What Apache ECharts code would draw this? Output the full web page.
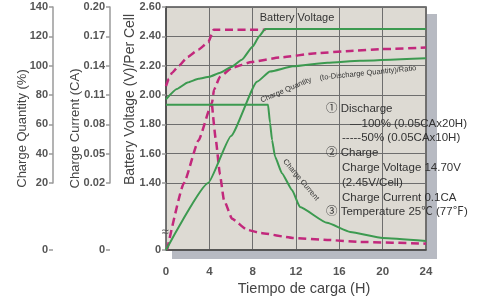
<!DOCTYPE html>
<html>
<head>
<meta charset="utf-8">
<script src="https://cdn.jsdelivr.net/npm/echarts@6/dist/echarts.min.js"></script>
<style>
  html, body { margin: 0; padding: 0; background: #fff; }
  #chart { width: 477px; height: 300px; }
</style>
</head>
<body>
<div id="chart"></div>
<script>
// tick labels
const hourTicks = [0, 4, 8, 12, 16, 20, 24];
const voltTicks = [0, 1.4, 1.6, 1.8, 2.0, 2.2, 2.4, 2.6];
const currentTicks = [0, 0.02, 0.05, 0.08, 0.11, 0.14, 0.17, 0.20];
const quantityTicks = [0, 20, 40, 60, 80, 100, 120, 140];

// [hour, value]
const voltage100 = [[0, 1.97], [1, 2.04], [2, 2.085], [3, 2.11], [4, 2.124], [5, 2.152], [6, 2.19], [7, 2.24], [8, 2.33], [8.6, 2.40], [9.15, 2.45], [24, 2.45]];
const voltage50 = [[0, 2.06], [0.25, 2.11], [0.55, 2.15], [1.2, 2.20], [2.0, 2.26], [3.0, 2.31], [3.9, 2.36], [4.4, 2.445], [9.2, 2.445]];
const quantity100 = [[0, 0], [3.9, 20], [6, 52], [8.4, 89], [9.6, 96], [11.7, 99.5], [14.9, 102], [17.9, 103.3], [24, 105]];
const quantity50 = [[0.1, 0], [1.66, 20], [3, 49], [4.25, 74.7], [4.43, 83.6], [4.98, 92.4], [6.1, 98.6], [7.9, 102.5], [10.5, 105.5], [13.9, 108.5], [17, 110], [20, 111.3], [24, 112.3]];
const current100 = [[0, 0.10], [9.42, 0.10], [9.6, 0.0815], [9.79, 0.064], [10.06, 0.047], [10.7, 0.030], [11.63, 0.0179], [12.37, 0.0128], [14.86, 0.0081], [17, 0.0054], [20, 0.0036], [24, 0.0027]];
const current50 = [[4.25, 0.10], [4.6, 0.064], [4.98, 0.0285], [5.35, 0.0149], [6.1, 0.0093], [7.5, 0.006], [8.7, 0.0051], [11.7, 0.0036], [14.9, 0.003], [17.9, 0.0024], [24, 0.0019]];

const GREEN = '#3c9a50';
const MAGENTA = '#c2287c';
const FONT = '"Liberation Sans", Arial, "Noto Sans CJK SC", sans-serif';

const myChart = echarts.init(document.getElementById('chart'));

const leftAxis = function (ticks, offset, name, nameGap, fmt, brk, namePad, nameSize) {
  return {
    type: 'value',
    position: 'left',
    offset: offset,
    min: ticks[0],
    max: ticks[ticks.length - 1],
    breaks: [brk],
    breakArea: { show: false },
    name: name,
    nameLocation: 'middle',
    nameRotate: 90,
    nameGap: nameGap,
    nameMoveOverlap: false,
    nameTextStyle: { fontSize: nameSize, color: '#444', fontFamily: FONT, padding: namePad },
    axisLine: { show: true, lineStyle: { color: '#9a9a9a', width: 1.5 } },
    axisTick: { show: true, length: 4, customValues: ticks, lineStyle: { color: '#9a9a9a', width: 1.5 } },
    axisLabel: {
      customValues: ticks,
      margin: 5,
      fontSize: 11,
      fontWeight: 'bold',
      color: '#555',
      fontFamily: FONT,
      formatter: fmt
    },
    splitLine: { show: false }
  };
};

const fix2 = v => (v === 0 ? '0' : v.toFixed(2));

const voltAxis = leftAxis(voltTicks, 0, 'Battery Voltage (V)/Per Cell', 29, fix2,
  { start: 0, end: 1.4, gap: 0.4575 }, [0, 0, 0, 58], 14);
voltAxis.axisLine.lineStyle.color = '#4d4d4d';
voltAxis.splitLine = { show: true, lineStyle: { color: '#6e6e6e', width: 1 } };
const currentAxis = leftAxis(currentTicks, 56, 'Charge Current (CA)', 28, fix2,
  { start: 0, end: 0.02, gap: 0.06864 }, 0, 13);
const quantityAxis = leftAxis(quantityTicks, 113, 'Charge Quantity (%)', 24, v => String(v),
  { start: 0, end: 20, gap: 45.76 }, 0, 13);

const lineSeries = function (name, data, yIdx, color, dashed) {
  return {
    name: name,
    type: 'line',
    yAxisIndex: yIdx,
    data: data,
    showSymbol: false,
    smooth: 0.15,
    smoothMonotone: 'x',
    lineStyle: { color: color, width: dashed ? 2.5 : 2, type: dashed ? [8, 4.5] : 'solid' },
    z: dashed ? 3 : 4
  };
};

const legendRows = [
  ['① Discharge', 326, 109],
  ['—100% (0.05CAx20H)', 350, 124],
  ['-----50% (0.05CAx10H)', 342, 138],
  ['② Charge', 326, 153],
  ['Charge Voltage 14.70V', 342, 168],
  ['(2.45V/Cell)', 342, 183],
  ['Charge Current 0.1CA', 342, 198],
  ['③ Temperature 25℃ (77℉)', 326, 212]
];

myChart.setOption({
  animation: false,
  grid: {
    left: 166,
    top: 7,
    right: 51,
    bottom: 50,
    outerBoundsMode: 'none',
    show: true,
    backgroundColor: '#dddad3',
    borderColor: '#4d4d4d',
    borderWidth: 1.5
  },
  xAxis: {
    type: 'value',
    min: 0,
    max: 24,
    interval: 4,
    name: 'Tiempo de carga (H)',
    nameLocation: 'middle',
    nameGap: 32,
    nameMoveOverlap: false,
    nameTextStyle: { fontSize: 14.5, color: '#444', fontFamily: FONT, padding: [0, 0, 0, 16] },
    axisLine: { show: true, lineStyle: { color: '#4d4d4d', width: 1.5 } },
    axisTick: { show: false },
    axisLabel: {
      margin: 16,
      fontSize: 11.5,
      fontWeight: 'bold',
      color: '#555',
      fontFamily: FONT,
      formatter: v => (hourTicks.indexOf(v) >= 0 ? String(v) : '')
    },
    splitLine: { show: true, lineStyle: { color: '#6e6e6e', width: 1 } }
  },
  yAxis: [voltAxis, currentAxis, quantityAxis],
  series: [
    lineSeries('Voltage 100%', voltage100, 0, GREEN, false),
    lineSeries('Voltage 50%', voltage50, 0, MAGENTA, true),
    lineSeries('Quantity 100%', quantity100, 2, GREEN, false),
    lineSeries('Quantity 50%', quantity50, 2, MAGENTA, true),
    lineSeries('Current 100%', current100, 1, GREEN, false),
    lineSeries('Current 50%', current50, 1, MAGENTA, true)
  ],
  graphic: [
    // plot shadow
    { type: 'rect', shape: { x: 427, y: 14, width: 10, height: 245 }, style: { fill: '#b7bac2' }, silent: true },
    { type: 'rect', shape: { x: 172, y: 251, width: 255, height: 8 }, style: { fill: '#b7bac2' }, silent: true },
    // axis break mark
    { type: 'text', x: 165, y: 232, z: 100, style: { text: '≈', fontSize: 13, fill: '#555', align: 'center', verticalAlign: 'middle', fontFamily: FONT } },
    { type: 'text', x: 297, y: 18, z: 100, style: { text: 'Battery Voltage', fontSize: 11, fill: '#333', align: 'center', verticalAlign: 'middle', fontFamily: FONT } },
    { type: 'text', x: 286, y: 90, rotation: 0.4, z: 100, style: { text: 'Charge Quantity', fontSize: 7.5, fill: '#333', align: 'center', verticalAlign: 'middle', fontFamily: FONT } },
    { type: 'text', x: 368, y: 73, rotation: 0.1, z: 100, style: { text: '(to-Discharge Quantity)/Ratio', fontSize: 7.5, fill: '#333', align: 'center', verticalAlign: 'middle', fontFamily: FONT } },
    { type: 'text', x: 301, y: 180, rotation: -0.87, z: 100, style: { text: 'Charge Current', fontSize: 7.5, fill: '#333', align: 'center', verticalAlign: 'middle', fontFamily: FONT } }
  ].concat(legendRows.map(r => ({
    type: 'text', x: r[1], y: r[2], z: 100,
    style: { text: r[0], fontSize: 11.5, fill: '#333', align: 'left', verticalAlign: 'middle', fontFamily: FONT }
  })))
});
</script>
</body>
</html>
